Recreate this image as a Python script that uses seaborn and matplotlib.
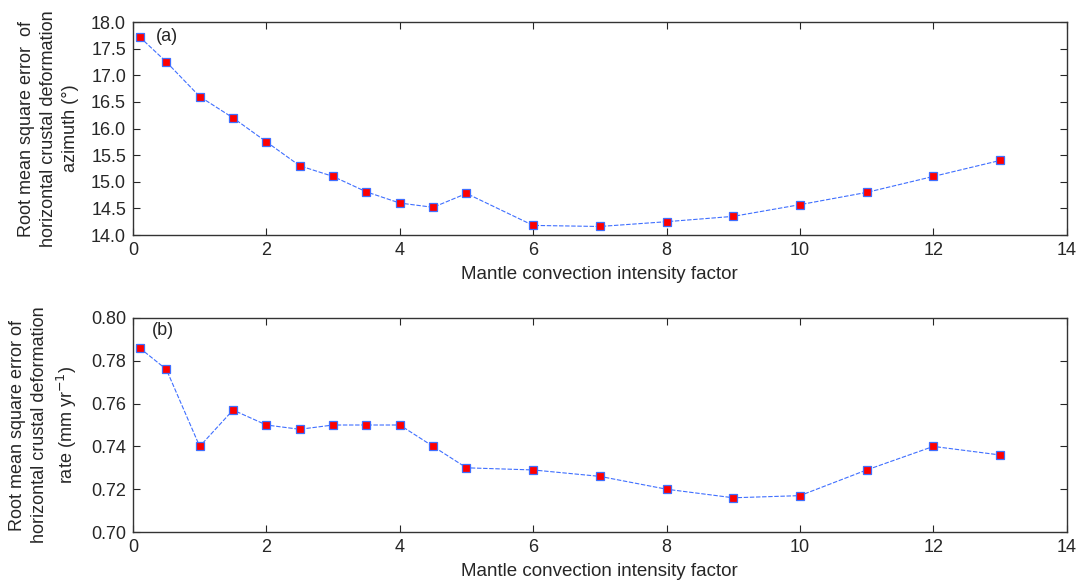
import numpy as np
import pandas as pd
import seaborn as sns
import matplotlib.pyplot as plt

sns.set_style("ticks")
plt.rcParams["font.family"] = ["Liberation Sans", "DejaVu Sans"]
plt.rcParams["font.size"] = 13.5

# mantle convection intensity factor
factor = [0.1, 0.5, 1, 1.5, 2, 2.5, 3, 3.5, 4, 4.5, 5, 6, 7, 8, 9, 10, 11, 12, 13]

# RMSE of azimuth (deg)
rmse_azimuth = [17.72, 17.25, 16.60, 16.20, 15.75, 15.30, 15.10, 14.81, 14.60, 14.52, 14.78,
                14.18, 14.16, 14.25, 14.35, 14.57, 14.80, 15.10, 15.40]

# RMSE of rate (mm/yr)
rmse_rate = [0.786, 0.776, 0.740, 0.757, 0.750, 0.748, 0.750, 0.750, 0.750, 0.740, 0.730,
             0.729, 0.726, 0.720, 0.716, 0.717, 0.729, 0.740, 0.736]

df = pd.DataFrame({"factor": factor, "azimuth": rmse_azimuth, "rate": rmse_rate})

fig = plt.figure(figsize=(10.83, 5.84), dpi=100)
ax1 = fig.add_axes([0.1228, 0.5976, 0.8622, 0.3647])
ax2 = fig.add_axes([0.1228, 0.0890, 0.8622, 0.3665])

line_kw = dict(color="#3f6fff", linewidth=0.8, linestyle=(0, (4, 1.5)),
               marker="s", markersize=5.5, markerfacecolor="#ff0000",
               markeredgecolor="#3f6fff", markeredgewidth=0.9)

sns.lineplot(data=df, x="factor", y="azimuth", ax=ax1, **line_kw)
sns.lineplot(data=df, x="factor", y="rate", ax=ax2, **line_kw)

ax1.set_ylim(14.0, 18.0)
ax1.set_yticks(np.arange(14.0, 18.01, 0.5))
ax1.set_yticklabels([f"{v:.1f}" for v in np.arange(14.0, 18.01, 0.5)])
ax1.set_ylabel("Root mean square error  of\nhorizontal crustal deformation\nazimuth (°)",
               linespacing=1.38, fontsize=13)
ax1.text(0.024, 0.93, "(a)", transform=ax1.transAxes, va="center", ha="left", fontsize=13)

ax2.set_ylim(0.70, 0.80)
ax2.set_yticks(np.arange(0.70, 0.8001, 0.02))
ax2.set_yticklabels([f"{v:.2f}" for v in np.arange(0.70, 0.8001, 0.02)])
ax2.set_ylabel("Root mean square error of\nhorizontal crustal deformation\nrate (mm yr$^{-1}$)",
               linespacing=1.38, fontsize=13)
ax2.text(0.020, 0.94, "(b)", transform=ax2.transAxes, va="center", ha="left", fontsize=13)

for ax in (ax1, ax2):
    ax.set_xlim(0, 14)
    ax.set_xticks(range(0, 15, 2))
    ax.set_xlabel("Mantle convection intensity factor", labelpad=5)
    ax.tick_params(direction="in", top=True, right=True, length=5, width=0.8,
                   labelsize=13, pad=5)
    for s in ax.spines.values():
        s.set_linewidth(1.0)
        s.set_color("#333333")
    ax.yaxis.set_label_coords(-0.058, 0.5)

fig.savefig("out.png", dpi=100)
